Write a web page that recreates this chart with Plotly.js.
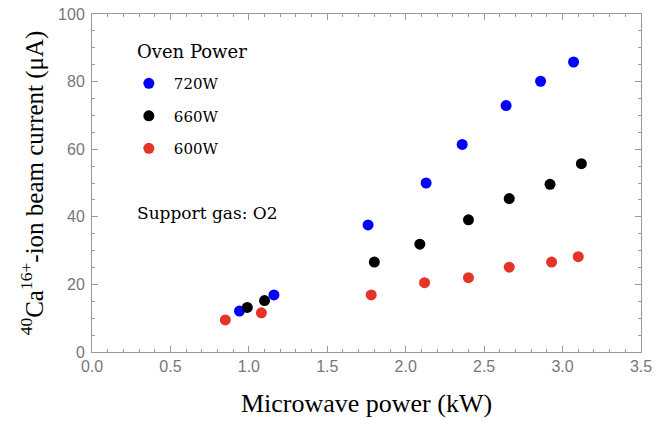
<!DOCTYPE html>
<html>
<head>
<meta charset="utf-8">
<script src="https://cdn.plot.ly/plotly-3.0.1.min.js"></script>
<style>
  html, body { margin: 0; padding: 0; background: #fff; }
  #chart { width: 667px; height: 421px; }
</style>
</head>
<body>
<div id="chart"></div>
<script>
// Microwave power (kW) and beam current (µA) per oven power setting
const power720 = [0.94, 1.16, 1.76, 2.13, 2.36, 2.64, 2.86, 3.07];
const current720 = [12.1, 16.9, 37.6, 50.0, 61.4, 72.9, 80.1, 85.8];

const power660 = [0.99, 1.10, 1.80, 2.09, 2.40, 2.66, 2.92, 3.12];
const current660 = [13.2, 15.2, 26.6, 31.9, 39.1, 45.4, 49.6, 55.7];

const power600 = [0.85, 1.08, 1.78, 2.12, 2.40, 2.66, 2.93, 3.10];
const current600 = [9.5, 11.6, 16.9, 20.5, 22.0, 25.1, 26.6, 28.2];

const seriesNames = ['720W', '660W', '600W'];
const seriesColors = ['#0000ff', '#000000', '#e63327'];

const xs = [power720, power660, power600];
const ys = [current720, current660, current600];

const traces = seriesNames.map((name, i) => ({
  type: 'scatter',
  mode: 'markers',
  name: name,
  legendgroup: name,
  x: xs[i],
  y: ys[i],
  marker: { color: seriesColors[i], size: 11 },
  hoverinfo: 'x+y+name'
}));

const frameColor = '#9a9a9a';
const tickFont = { family: 'Liberation Sans, Arial, sans-serif', size: 16, color: '#777777' };
const serif = 'Liberation Serif, Times New Roman, serif';
const noteFont = 'DejaVu Serif, serif';

const layout = {
  width: 667,
  height: 421,
  margin: { l: 92, r: 26, t: 14, b: 69 },
  paper_bgcolor: '#ffffff',
  plot_bgcolor: '#ffffff',
  showlegend: true,
  legend: {
    x: 0.058, y: 0.843, xanchor: 'left', yanchor: 'top',
    bgcolor: 'rgba(0,0,0,0)',
    font: { family: noteFont, size: 15, color: '#000' },
    traceorder: 'grouped',
    tracegroupgap: 10,
    itemwidth: 40
  },
  xaxis: {
    range: [0, 3.5],
    dtick: 0.5,
    tick0: 0,
    tickformat: '.1f',
    ticks: 'inside',
    ticklen: 6,
    tickcolor: frameColor,
    showline: true,
    linecolor: frameColor,
    linewidth: 1,
    mirror: 'ticks',
    showgrid: false,
    zeroline: false,
    tickfont: tickFont,
    minor: { dtick: 0.1, ticks: 'inside', ticklen: 3, tickcolor: frameColor, showgrid: false },
    title: { text: 'Microwave power (kW)', font: { family: serif, size: 26, color: '#000' }, standoff: 19 }
  },
  yaxis: {
    range: [0, 100],
    dtick: 20,
    tick0: 0,
    ticks: 'inside',
    ticklen: 6,
    tickcolor: frameColor,
    showline: true,
    linecolor: frameColor,
    linewidth: 1,
    mirror: 'ticks',
    showgrid: false,
    zeroline: false,
    tickfont: tickFont,
    ticklabelstandoff: 3,
    minor: { dtick: 5, ticks: 'inside', ticklen: 3, tickcolor: frameColor, showgrid: false },
    title: { text: '<sup>40</sup>Ca<sup>16+</sup>-ion beam current (μA)', font: { family: serif, size: 25, color: '#000' }, standoff: 7 }
  },
  annotations: [
    {
      xref: 'paper', yref: 'paper',
      x: 0.078, y: 0.888, xanchor: 'left', yanchor: 'middle',
      text: 'Oven Power',
      showarrow: false,
      font: { family: noteFont, size: 18, color: '#000' }
    },
    {
      xref: 'paper', yref: 'paper',
      x: 0.078, y: 0.412, xanchor: 'left', yanchor: 'middle',
      text: 'Support gas: O2',
      showarrow: false,
      font: { family: noteFont, size: 17, color: '#000' }
    }
  ]
};

Plotly.newPlot('chart', traces, layout, { displayModeBar: false, staticPlot: true });
</script>
</body>
</html>
